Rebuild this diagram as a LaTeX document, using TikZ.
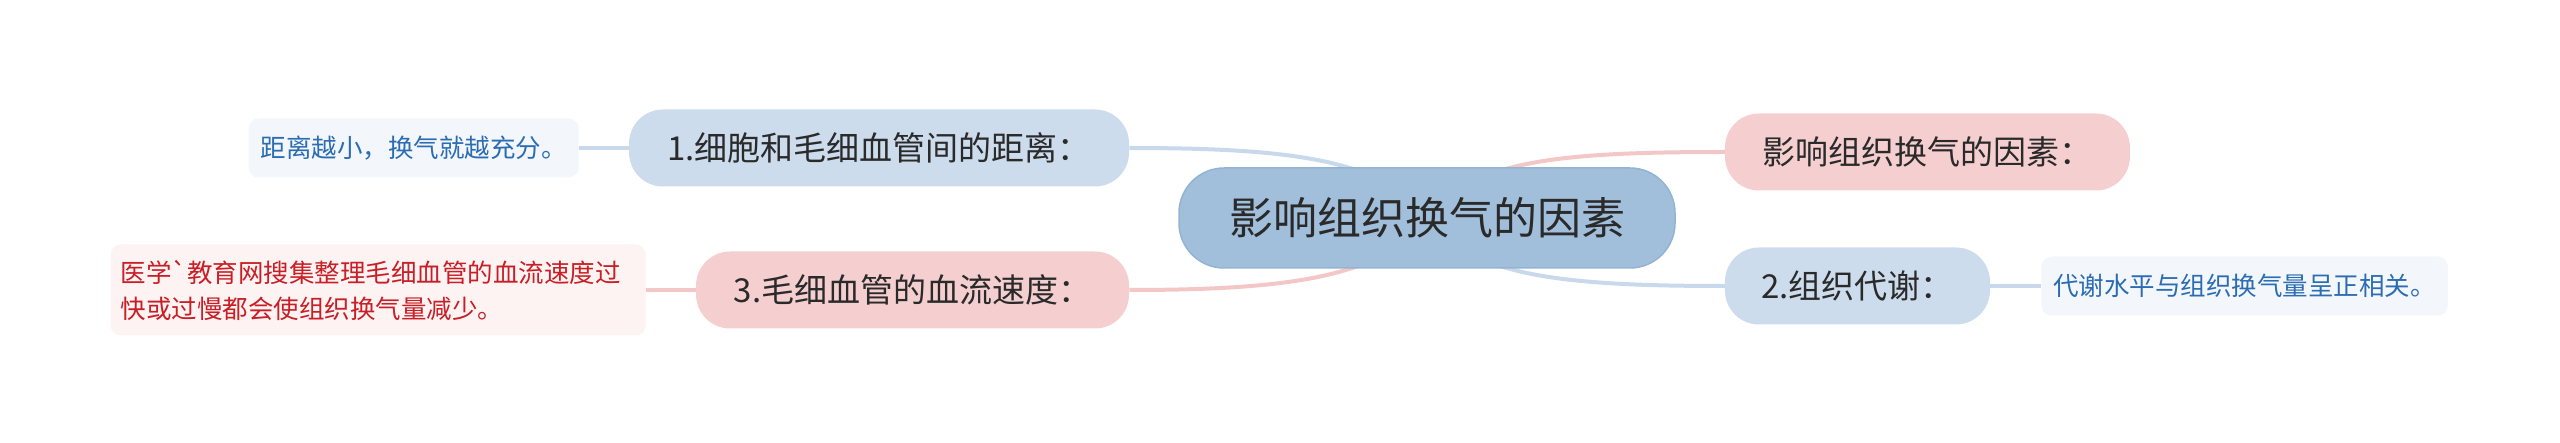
\documentclass[tikz,border=0pt]{standalone}
\usepackage{fontspec}
\newfontfamily\cjkfont{Noto Sans CJK SC}
\usetikzlibrary{positioning,backgrounds}
\definecolor{rootfill}{HTML}{A1BFDB}
\definecolor{rootedge}{HTML}{93B3D3}
\definecolor{bluefill}{HTML}{CCDCEC}
\definecolor{pinkfill}{HTML}{F5CFD0}
\definecolor{blueleaf}{HTML}{F3F7FC}
\definecolor{pinkleaf}{HTML}{FDF3F3}
\definecolor{bluetext}{HTML}{2B6CB3}
\definecolor{pinktext}{HTML}{C81E25}
\definecolor{darktext}{HTML}{2A2A2A}
\definecolor{blueline}{HTML}{C8D9EB}
\definecolor{pinkline}{HTML}{F3C6C7}
\begin{document}
\begin{tikzpicture}[x=1pt,y=1pt,
    root node/.style={rounded corners=45pt, fill=rootfill, draw=rootedge, line width=1.5pt, text=darktext, font=\cjkfont\fontsize{44}{52}\selectfont, minimum height=100pt, minimum width=496pt},
    main node/.style={rounded corners=34pt, text=darktext, font=\cjkfont\fontsize{33}{40}\selectfont, minimum height=77pt},
    leaf node/.style={rounded corners=10pt, font=\cjkfont\fontsize{25.5}{36}\selectfont, inner xsep=12pt, minimum height=59pt},
    blue edge/.style={draw=blueline, line width=4pt},
    pink edge/.style={draw=pinkline, line width=4pt}]
    \useasboundingbox (0,0) rectangle (2560,-443);

      \node[root node] (0) at (1427,-218) {影响组织换气的因素};
      \node[main node, fill=bluefill, minimum width=500pt] (1) [left=49pt of 0, yshift=70pt] {1.细胞和毛细血管间的距离：};
      \node[main node, fill=pinkfill, minimum width=405pt] (2) [right=49pt of 0, yshift=66pt] {影响组织换气的因素：};
      \node[main node, fill=bluefill, minimum width=265pt] (3) [right=49pt of 0, yshift=-68pt] {2.组织代谢：};
      \node[main node, fill=pinkfill, minimum width=433pt] (4) [left=49pt of 0, yshift=-72pt] {3.毛细血管的血流速度：};
      \node[leaf node, fill=blueleaf, text=bluetext] (5) [left=50pt of 1] {距离越小，换气就越充分。};
      \node[leaf node, fill=blueleaf, text=bluetext] (6) [right=51pt of 3] {代谢水平与组织换气量呈正相关。};
      \node[leaf node, fill=pinkleaf, text=pinktext, text width=515pt, inner xsep=10pt, align=left, minimum height=91pt] (7) [left=50pt of 4] {医学`教育网搜集整理毛细血管的血流速度过\\快或过慢都会使组织换气量减少。};

    \begin{scope}[on background layer]
      \path[blue edge] (0.center) .. controls +(-43,58) and +(164,0) .. (1.east);
      \path[pink edge] (0.center) .. controls +(43,58) and +(-164,0) .. (2.west);
      \path[blue edge] (0.center) .. controls +(43,-58) and +(-164,0) .. (3.west);
      \path[pink edge] (0.center) .. controls +(-43,-58) and +(164,0) .. (4.east);
      \path[blue edge] (1) -- (5);
      \path[blue edge] (3) -- (6);
      \path[pink edge] (4) -- (7);
    \end{scope}
\end{tikzpicture}
\end{document}
